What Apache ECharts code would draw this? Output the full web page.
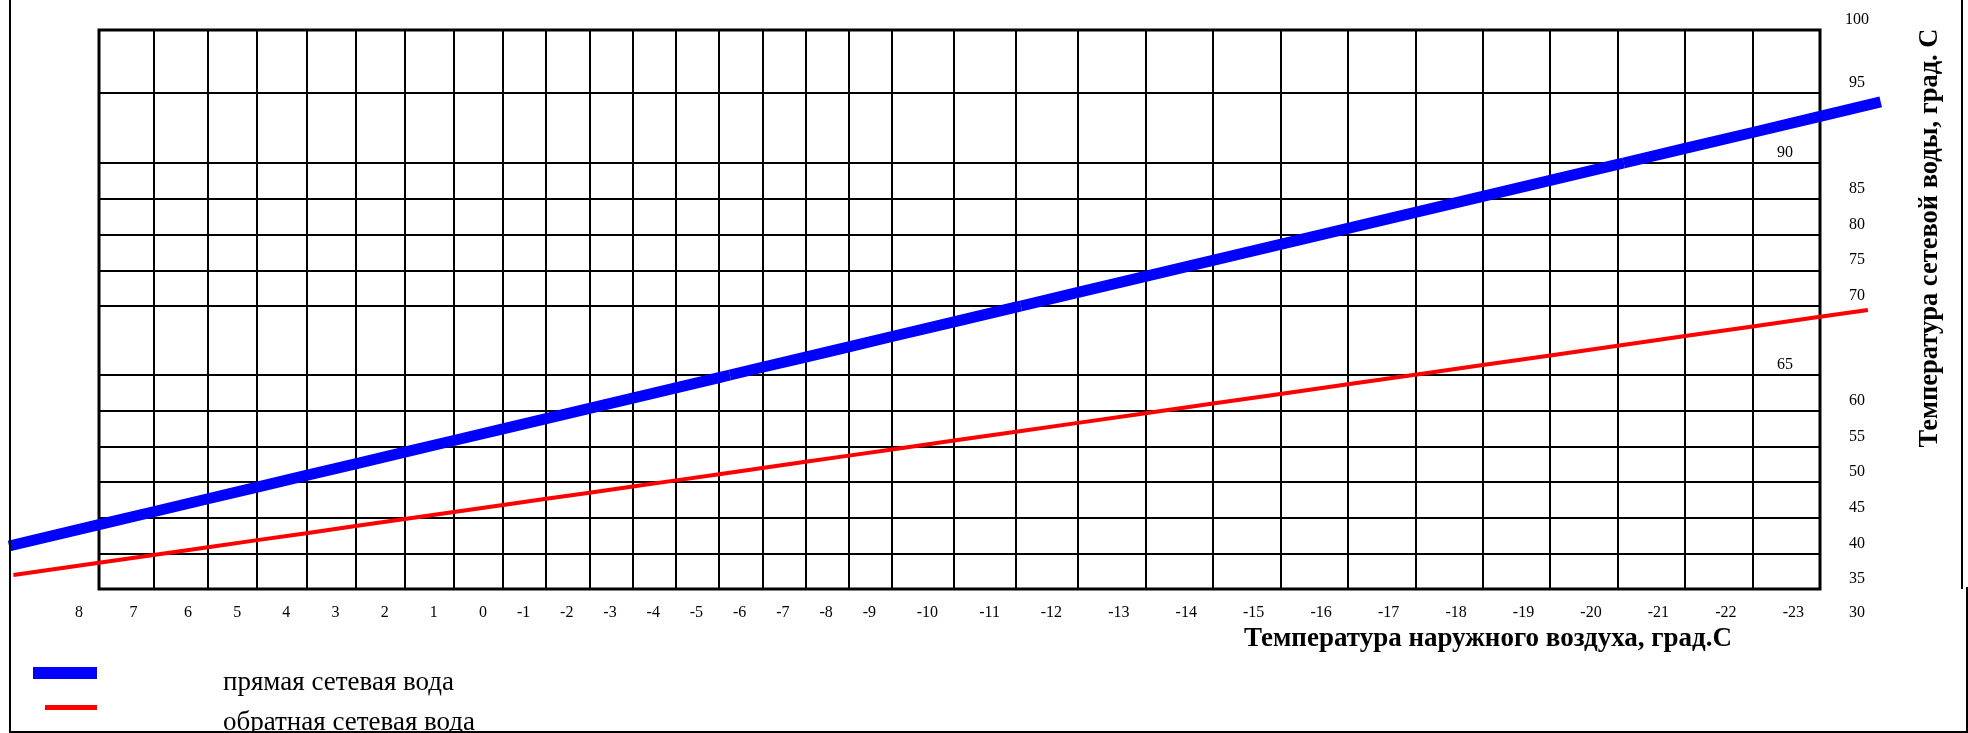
<!DOCTYPE html>
<html>
<head>
<meta charset="utf-8">
<script src="https://cdn.jsdelivr.net/npm/echarts@6/dist/echarts.min.js"></script>
<style>
html,body{margin:0;padding:0;background:#fff;overflow:hidden;width:1968px;height:733px}
#chart{position:absolute;left:0;top:0;width:1968px;height:733px}
.fr{position:absolute;background:#000;pointer-events:none}
</style>
</head>
<body>
<div id="chart"></div>
<div class="fr" style="left:9px;top:0;width:2px;height:733px"></div>
<div class="fr" style="left:9px;top:731px;width:1959px;height:2px"></div>
<div class="fr" style="left:1961px;top:0;width:2px;height:589px"></div>
<div class="fr" style="left:1966px;top:587px;width:2px;height:146px"></div>
<script>
// ---------------- DATA ----------------
// outdoor air temperature, °C (x axis ticks)
const outdoorTemps = [8, 7, 6, 5, 4, 3, 2, 1, 0, -1, -2, -3, -4, -5, -6, -7, -8, -9, -10, -11, -12, -13, -14, -15, -16, -17, -18, -19, -20, -21, -22, -23];
// supply (прямая) network water temperature read at each outdoor temperature
const supplyWater = [44.02, 45.83, 47.65, 49.28, 50.92, 52.55, 54.19, 55.82, 57.46, 58.89, 60.33, 61.77, 63.20, 64.64, 65.56, 66.30, 67.04, 67.79, 68.85, 69.92, 71.90, 74.14, 76.37, 78.61, 80.85, 83.09, 85.32, 87.56, 89.80, 91.04, 92.18, 93.33];
// return (обратная) network water temperature read at each outdoor temperature
const returnWater = [38.68, 39.77, 40.86, 41.85, 42.83, 43.82, 44.80, 45.79, 46.77, 47.64, 48.50, 49.37, 50.23, 51.10, 51.97, 52.83, 53.70, 54.56, 55.81, 57.05, 58.29, 59.64, 60.99, 62.34, 63.69, 65.02, 65.72, 66.42, 67.12, 67.82, 68.52, 69.22];
// where each drawn line crosses the 65 / 70 / 90 grid lines: [outdoor temp, water temp]
const supplyCrossings = [[-5.25, 65], [-11.08, 70], [-20.09, 90]];
const returnCrossings = [[-16.97, 65]];
// the drawn lines run a little past the plot on both sides: [outdoor temp, water temp]
const supplyStart = [9.65, 41.03];
const supplyEnd = [-23.9, 94.36];
const returnStart = [9.57, 36.96];
const returnEnd = [-23.71, 69.71];
// water temperature tick labels
const waterTicks = [30, 35, 40, 45, 50, 55, 60, 65, 70, 75, 80, 85, 90, 95, 100];

const seriesNames = ['прямая сетевая вода', 'обратная сетевая вода'];
const xTitle = 'Температура наружного воздуха, град.С';
const yTitle = 'Температура сетевой воды, град. С';

// ---------------- LAYOUT (the paper grid is drawn piecewise) ----------------
const FONT = "'Liberation Serif','Times New Roman',serif";
const xSegs = [
  {px: [0.9, 99],      t: [9.8, 8],   lines: false},
  {px: [99, 208],      t: [8, 6],     lines: true, showMin: false},
  {px: [208, 503],     t: [6, 0],     lines: true, showMin: false},
  {px: [503, 892],     t: [0, -9],    lines: true, showMin: false},
  {px: [892, 1078],    t: [-9, -12],  lines: true, showMin: false},
  {px: [1078, 1820],   t: [-12, -23], lines: true, showMin: true},
  {px: [1820, 1954.9], t: [-23, -25], lines: false}
];
const LABEL_COL = 5;
const yBands = [
  {px: [30, 93],   v: [100, 95], lab: {inside: false, showMin: true, showMax: true}},
  {px: [93, 163],  v: [95, 90],  lab: {inside: true,  showMin: true, showMax: false}},
  {px: [163, 306], v: [90, 70],  lab: {inside: false, showMin: true, showMax: false}},
  {px: [306, 375], v: [70, 65],  lab: {inside: true,  showMin: true, showMax: false}},
  {px: [375, 589], v: [65, 35],  lab: {inside: false, showMin: true, showMax: false}}
];

function buildLine(temps, vals, crossings, start, end) {
  const pts = [start].concat(temps.map((t, i) => [t, vals[i]]), crossings, [end]);
  return pts.sort((a, b) => b[0] - a[0]);
}
const supplyData = buildLine(outdoorTemps, supplyWater, supplyCrossings, supplyStart, supplyEnd);
const returnData = buildLine(outdoorTemps, returnWater, returnCrossings, returnStart, returnEnd);

// the part of a line that lies inside one piece of the grid
function piece(data, tr, vr) {
  const e = 1e-9;
  const t0 = Math.min(tr[0], tr[1]), t1 = Math.max(tr[0], tr[1]);
  const v0 = Math.min(vr[0], vr[1]), v1 = Math.max(vr[0], vr[1]);
  return data.filter(p => p[0] >= t0 - e && p[0] <= t1 + e && p[1] >= v0 - e && p[1] <= v1 + e);
}

// legend keys: coloured bar at the top of a taller (empty) key box
const supplyKey = 'path://M0,0H64V12H0Z M0,31L0,32Z';
const returnKey = 'path://M0,0H52V5H0Z M0,35L0,36Z';

const option = {
  animation: false,
  backgroundColor: 'transparent',
  grid: [], xAxis: [], yAxis: [], series: [],
  legend: [
    {
      data: [{name: seriesNames[0], icon: supplyKey}],
      left: 28, top: 662, orient: 'vertical', selectedMode: false,
      itemWidth: 64, itemHeight: 32,
      textStyle: {fontFamily: FONT, fontSize: 27, color: '#000', padding: [0, 0, 0, 121]}
    },
    {
      data: [{name: seriesNames[1], icon: returnKey}],
      left: 40, top: 700, orient: 'vertical', selectedMode: false,
      itemWidth: 52, itemHeight: 36,
      textStyle: {fontFamily: FONT, fontSize: 27, color: '#000', padding: [0, 0, 0, 121]}
    }
  ]
};

const gridLine = {show: true, lineStyle: {color: '#000', width: 2}};

function lineSeries(name, data, color, width, idx) {
  return {
    name: name, type: 'line', data: data, xAxisIndex: idx, yAxisIndex: idx,
    symbol: 'none', clip: false, silent: true, color: color,
    itemStyle: {color: color},
    lineStyle: {color: color, width: width, cap: 'butt', join: 'round'},
    z: 3
  };
}

function yLabelCfg(lab) {
  return {
    show: true, inside: lab.inside, margin: lab.inside ? 35 : 37,
    showMinLabel: lab.showMin, showMaxLabel: lab.showMax,
    align: 'center', verticalAlign: 'bottom', lineHeight: 20,
    fontFamily: FONT, fontSize: 16, color: '#000'
  };
}

xSegs.forEach((s, si) => {
  yBands.forEach((b, bi) => {
    const idx = option.grid.length;
    const isBottom = bi === yBands.length - 1;
    option.grid.push({
      left: s.px[0], top: b.px[0], width: s.px[1] - s.px[0], height: b.px[1] - b.px[0],
      outerBoundsMode: 'none'
    });
    option.xAxis.push({
      gridIndex: idx, type: 'value', inverse: true, position: 'bottom',
      min: Math.min(s.t[0], s.t[1]), max: Math.max(s.t[0], s.t[1]), interval: 1,
      axisLine: {show: false}, axisTick: {show: false},
      axisLabel: (s.lines && isBottom) ? {
        show: true, showMinLabel: s.showMin, showMaxLabel: true,
        align: 'right', padding: [0, 16, 0, 0], margin: 16,
        fontFamily: FONT, fontSize: 16, color: '#000'
      } : {show: false},
      splitLine: s.lines ? gridLine : {show: false}
    });
    option.yAxis.push({
      gridIndex: idx, type: 'value', position: 'right',
      min: b.v[1], max: b.v[0], interval: 5,
      axisLine: {show: false}, axisTick: {show: false},
      axisLabel: si === LABEL_COL ? yLabelCfg(b.lab) : {show: false},
      splitLine: s.lines ? gridLine : {show: false}
    });
    const r = piece(returnData, s.t, b.v);
    const p = piece(supplyData, s.t, b.v);
    option.series.push(lineSeries(seriesNames[1], r.length > 1 ? r : [], '#ff0000', 4, idx));
    option.series.push(lineSeries(seriesNames[0], p.length > 1 ? p : [], '#0000ff', 11, idx));
  });
});

// label strip below the plot carrying the lowest water tick
(function () {
  const idx = option.grid.length;
  option.grid.push({left: 1078, top: 589, width: 742, height: 34, outerBoundsMode: 'none'});
  option.xAxis.push({gridIndex: idx, type: 'value', min: 0, max: 1, show: false});
  option.yAxis.push({
    gridIndex: idx, type: 'value', position: 'right', min: waterTicks[0], max: waterTicks[1], interval: 5,
    axisLine: {show: false}, axisTick: {show: false}, splitLine: {show: false},
    axisLabel: yLabelCfg({inside: false, showMin: true, showMax: false})
  });
})();

// plot frame
(function () {
  const idx = option.grid.length;
  option.grid.push({left: 99, top: 30, width: 1721, height: 559, show: true, borderColor: '#000', borderWidth: 3, outerBoundsMode: 'none', z: 1});
  option.xAxis.push({gridIndex: idx, type: 'value', show: false});
  option.yAxis.push({gridIndex: idx, type: 'value', show: false});
})();

// axis titles
(function () {
  let idx = option.grid.length;
  option.grid.push({left: 1243, width: 490, top: 30, height: 559, outerBoundsMode: 'none'});
  option.xAxis.push({
    gridIndex: idx, type: 'value', position: 'bottom',
    axisLine: {show: false}, axisTick: {show: false}, axisLabel: {show: false}, splitLine: {show: false},
    name: xTitle, nameLocation: 'middle', nameGap: 37,
    nameTextStyle: {fontFamily: FONT, fontSize: 27, fontWeight: 'bold', color: '#000'}
  });
  option.yAxis.push({gridIndex: idx, type: 'value', show: false});
  idx = option.grid.length;
  option.grid.push({left: 99, width: 1721, top: 30, height: 416, outerBoundsMode: 'none'});
  option.xAxis.push({gridIndex: idx, type: 'value', show: false});
  option.yAxis.push({
    gridIndex: idx, type: 'value', position: 'right',
    axisLine: {show: false}, axisTick: {show: false}, axisLabel: {show: false}, splitLine: {show: false},
    name: yTitle, nameLocation: 'middle', nameRotate: 90, nameGap: 97,
    nameTextStyle: {fontFamily: FONT, fontSize: 26.5, fontWeight: 'bold', color: '#000'}
  });
})();

const chart = echarts.init(document.getElementById('chart'), null, {renderer: 'canvas'});
chart.setOption(option);
</script>
</body>
</html>
